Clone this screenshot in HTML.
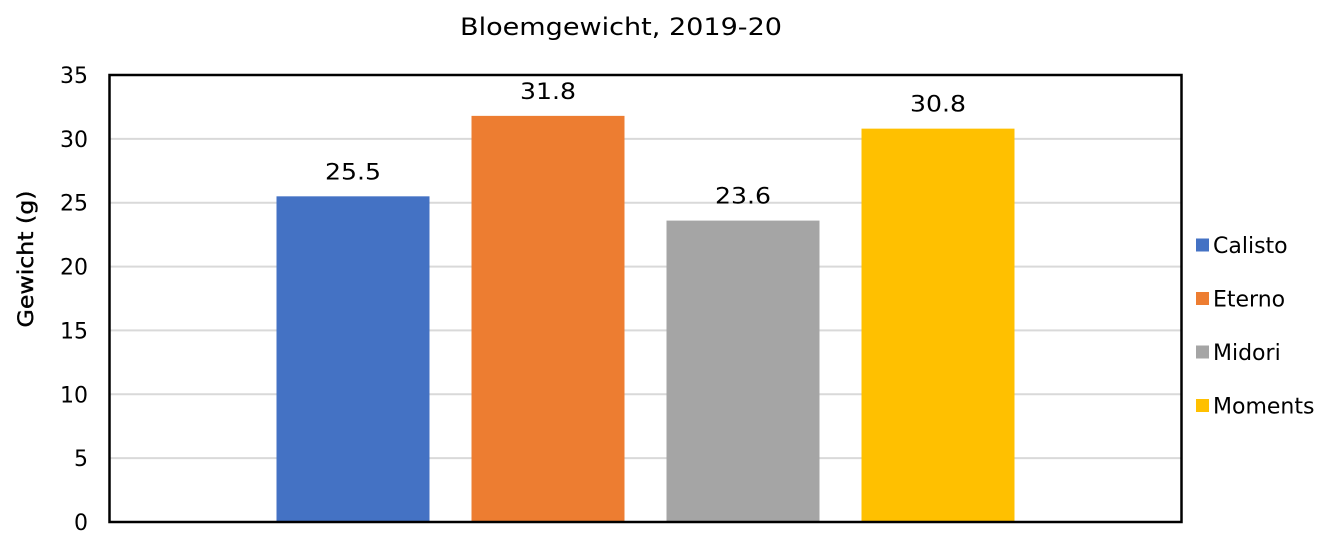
<!DOCTYPE html>
<html><head><meta charset="utf-8"><style>
body{margin:0;background:#fff;}
svg{display:block;font-family:"DejaVu Sans","Liberation Sans",sans-serif;}
</style></head><body>
<svg id="chart" width="1335" height="540" viewBox="0 0 1335 540">
<text x="621" y="35" text-anchor="middle" font-size="24" textLength="322" lengthAdjust="spacingAndGlyphs" fill="#000">Bloemgewicht, 2019-20</text>
<text transform="translate(33,259) rotate(-90)" text-anchor="middle" font-size="21" textLength="137" lengthAdjust="spacingAndGlyphs" fill="#000" stroke="#000" stroke-width="0.4">Gewicht (g)</text>
<g id="grid"></g><g id="bars"></g><g id="labels"></g><g id="ticks"></g><g id="legend"></g>
<rect x="109.5" y="75" width="1072" height="447" fill="none" stroke="#000" stroke-width="2.5"/>
</svg>
<script>
const categories=["Calisto","Eterno","Midori","Moments"];
const values=[25.5,31.8,23.6,30.8];
const valueLabels=["25.5","31.8","23.6","30.8"];
const colors=["#4472C4","#ED7D31","#A5A5A5","#FFC000"];
const yTicks=[0,5,10,15,20,25,30,35];
const NS="http://www.w3.org/2000/svg";
const L=110,R=1181,T=75,B=522,ymax=35;
function y(v){return B-(v/ymax)*(B-T);}
const step=195,bw=153,mid=(L+R)/2;
function xc(i){return mid+(i-(categories.length-1)/2)*step;}
function mk(tag,attrs,parent){const e=document.createElementNS(NS,tag);for(const k in attrs)e.setAttribute(k,attrs[k]);document.getElementById(parent).appendChild(e);return e;}
yTicks.forEach(t=>{
  if(t>0&&t<ymax){const g=mk("line",{x1:L,x2:R,y1:y(t),y2:y(t),stroke:"#d9d9d9","stroke-width":2},"grid");
  
  }
  const tx=mk("text",{x:88,y:y(t)+8,"text-anchor":"end","font-size":22,fill:"#000"},"ticks");
  tx.textContent=t;
  
  
});
values.forEach((v,i)=>{
  const r=mk("rect",{x:xc(i)-bw/2,y:y(v),width:bw,height:B-y(v),fill:colors[i]},"bars");
  
  
  const t=mk("text",{x:xc(i),y:y(v)-17,"text-anchor":"middle","font-size":22,textLength:56,lengthAdjust:"spacingAndGlyphs",fill:"#000"},"labels");
  t.textContent=valueLabels[i];
  
  
  const ly=245+i*53.5;
  const s=mk("rect",{x:1196,y:ly-6.5,width:13,height:13,fill:colors[i]},"legend");
  
  
  const lt=mk("text",{x:1213,y:ly+8,"font-size":22,fill:"#000"},"legend");
  lt.textContent=categories[i];
  
  
});
</script>
</body></html>
